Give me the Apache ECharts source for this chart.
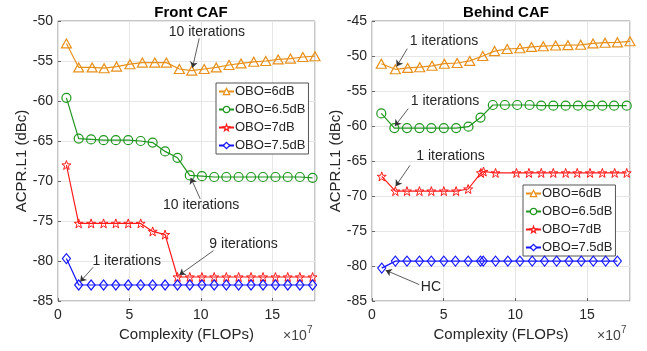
<!DOCTYPE html>
<html>
<head>
<meta charset="utf-8">
<script src="https://cdn.jsdelivr.net/npm/echarts@6/dist/echarts.min.js"></script>
<style>
html, body { margin: 0; padding: 0; background: #fff; }
#chart { width: 647px; height: 351px; }
</style>
</head>
<body>
<div id="chart"></div>
<script>
// series names, shared by both panels
var seriesNames = ['OBO=6dB', 'OBO=6.5dB', 'OBO=7dB', 'OBO=7.5dB'];

// Front CAF (left panel), complexity in units of 1e7 FLOPs
var frontX6 = [0.59, 1.45, 2.39, 3.23, 4.1, 5.04, 5.91, 6.78, 7.59, 8.5, 9.37, 10.24, 11.08, 11.98, 12.82, 13.71, 14.55, 15.42, 16.28, 17.15, 18.0];
var frontX = [0.59, 1.45, 2.32, 3.19, 4.05, 4.92, 5.79, 6.63, 7.5, 8.37, 9.23, 10.08, 10.94, 11.79, 12.65, 13.52, 14.36, 15.23, 16.09, 16.94, 17.83];
var front6 = [-52.8, -55.8, -55.8, -55.9, -55.7, -55.4, -55.2, -55.2, -55.2, -56.0, -56.2, -56.0, -55.8, -55.5, -55.3, -55.1, -55.0, -54.8, -54.7, -54.5, -54.4];
var front65 = [-59.6, -64.7, -64.8, -64.9, -64.9, -64.9, -65.0, -65.2, -66.3, -67.1, -69.3, -69.4, -69.5, -69.5, -69.5, -69.5, -69.5, -69.5, -69.5, -69.5, -69.6];
var front7 = [-68.0, -75.3, -75.3, -75.3, -75.3, -75.3, -75.3, -76.3, -76.7, -82.0, -82.0, -82.0, -82.0, -82.0, -82.0, -82.0, -82.0, -82.0, -82.0, -82.0, -82.0];
var front75 = [-79.7, -83.0, -83.0, -83.0, -83.0, -83.0, -83.0, -83.0, -83.0, -83.0, -83.0, -83.0, -83.0, -83.0, -83.0, -83.0, -83.0, -83.0, -83.0, -83.0, -83.0];

// Behind CAF (right panel)
var behindX6 = [0.65, 1.63, 2.49, 3.33, 4.19, 5.05, 5.94, 6.82, 7.73, 8.55, 9.43, 10.32, 11.13, 11.95, 12.81, 13.67, 14.56, 15.42, 16.26, 17.12, 18.0];
var behindX65 = [0.65, 1.56, 2.44, 3.31, 4.14, 5.01, 5.87, 6.73, 7.57, 8.43, 9.27, 10.13, 10.99, 11.81, 12.65, 13.51, 14.37, 15.21, 16.07, 16.89, 17.77];
var behindX7 = [0.68, 1.63, 2.44, 3.31, 4.14, 5.01, 5.87, 6.71, 7.6, 7.78, 8.62, 10.08, 10.95, 11.81, 12.65, 13.51, 14.32, 15.21, 16.07, 16.93, 17.77];
var behindX75 = [0.68, 1.63, 2.44, 3.31, 4.14, 5.01, 5.82, 6.71, 7.57, 7.76, 8.62, 9.48, 10.32, 11.18, 12.04, 12.88, 13.74, 14.6, 15.44, 16.3, 17.12];
var behind6 = [-51.1, -51.9, -51.7, -51.6, -51.4, -51.1, -51.0, -50.7, -50.0, -49.3, -49.0, -48.9, -48.7, -48.6, -48.5, -48.45, -48.4, -48.2, -48.1, -48.05, -47.9];
var behind65 = [-58.2, -60.3, -60.3, -60.3, -60.3, -60.3, -60.3, -60.1, -58.8, -57.0, -57.0, -57.0, -57.0, -57.1, -57.1, -57.1, -57.1, -57.1, -57.1, -57.1, -57.1];
var behind7 = [-67.2, -69.3, -69.3, -69.3, -69.3, -69.3, -69.3, -69.0, -66.7, -66.5, -66.7, -66.7, -66.7, -66.7, -66.7, -66.7, -66.7, -66.7, -66.7, -66.7, -66.7];
var behind75 = [-80.3, -79.3, -79.3, -79.3, -79.3, -79.3, -79.3, -79.3, -79.3, -79.3, -79.3, -79.3, -79.3, -79.3, -79.3, -79.3, -79.3, -79.3, -79.3, -79.3, -79.3];

// tick labels
var xTicks = [0, 5, 10, 15];
var frontYTicks = [-85, -80, -75, -70, -65, -60, -55, -50];
var behindYTicks = [-85, -80, -75, -70, -65, -60, -55, -50, -45];

// annotations: [text x, text y, arrow start x, y, arrow tip x, y, label]
var frontNotes = [
    [10.43, -51.45, 9.89, -52.17, 9.42, -55.85, '10 iterations'],
    [10.03, -73.07, 9.96, -72.23, 9.3, -69.6, '10 iterations'],
    [13.0, -77.86, 10.89, -78.7, 8.5, -81.75, '9 iterations'],
    [4.81, -80.04, 2.46, -80.79, 1.55, -82.6, '1 iterations']
];
var behindNotes = [
    [5.02, -47.86, 2.46, -48.95, 1.72, -51.5, '1 iterations'],
    [5.09, -56.48, 2.53, -57.52, 1.6, -60.0, '1 iterations'],
    [5.48, -64.33, 2.65, -65.62, 1.65, -68.6, '1 iterations'],
    [4.11, -83.09, 3.3, -82.66, 0.95, -80.6, 'HC']
];

var colors = ['#e8901a', '#1f961f', '#ff1a1a', '#1414ff'];
var starPath = 'path://M0,-10L2.35,-3.24L9.51,-3.09L3.8,1.24L5.88,8.09L0,4L-5.88,8.09L-3.8,1.24L-9.51,-3.09L-2.35,-3.24Z';
var symbols = ['triangle', 'circle', starPath, 'diamond'];
var symSizes = [[10, 9], 9, 9, [8, 10]];
var borderWidths = [1.2, 1.2, 1, 1.2];
var font = 'Liberation Sans, Arial, Helvetica, sans-serif';
var ink = '#262626';

function pairs(xs, ys) {
    return xs.map(function (x, i) { return [x, ys[i]]; });
}

function makeSeries(k, xs, ys, gi) {
    return {
        name: seriesNames[k],
        type: 'line',
        xAxisIndex: gi,
        yAxisIndex: gi,
        data: pairs(xs, ys),
        symbol: symbols[k],
        symbolSize: symSizes[k],
        lineStyle: { color: colors[k], width: 1.2 },
        itemStyle: { color: 'rgba(255,255,255,0)', borderColor: colors[k], borderWidth: borderWidths[k] },
        z: 3 + k
    };
}

function addNotes(s, notes) {
    s.markLine = {
        silent: true,
        symbol: ['none', 'arrow'],
        symbolSize: 6,
        lineStyle: { color: '#333', width: 0.8, type: 'solid' },
        label: { show: false },
        data: notes.map(function (n) {
            return [{ coord: [n[2], n[3]] }, { coord: [n[4], n[5]] }];
        })
    };
    s.markPoint = {
        silent: true,
        symbol: 'rect',
        symbolSize: 1,
        itemStyle: { color: 'rgba(0,0,0,0)' },
        label: { show: true, position: 'inside', formatter: '{b}', color: ink, fontSize: 14, fontFamily: font },
        data: notes.map(function (n) { return { coord: [n[0], n[1]], name: n[6] }; })
    };
}

function xAxisCfg(gi) {
    return {
        type: 'value', gridIndex: gi, min: 0, max: 18, interval: 5,
        name: 'Complexity (FLOPs)', nameLocation: 'middle', nameGap: 24,
        nameTextStyle: { color: ink, fontSize: 15, fontFamily: font },
        axisLine: { show: false },
        axisTick: { show: true, inside: true, length: 3, lineStyle: { color: '#666' } },
        axisLabel: { color: ink, fontSize: 14, fontFamily: font, margin: 7, showMaxLabel: false,
            formatter: function (v) { return xTicks.indexOf(v) >= 0 ? String(v) : ''; } },
        splitLine: { show: true, lineStyle: { color: '#e6e6e6' } }
    };
}

function yAxisCfg(gi, lo, hi, ticks) {
    return {
        type: 'value', gridIndex: gi, min: lo, max: hi, interval: 5,
        name: 'ACPR.L1 (dBc)', nameLocation: 'middle', nameGap: 27, nameRotate: 90,
        nameTextStyle: { color: ink, fontSize: 15, fontFamily: font },
        axisLine: { show: false },
        axisTick: { show: true, inside: true, length: 3, lineStyle: { color: '#666' } },
        axisLabel: { color: ink, fontSize: 14, fontFamily: font, margin: 5,
            formatter: function (v) { return ticks.indexOf(v) >= 0 ? String(v) : ''; } },
        splitLine: { show: true, lineStyle: { color: '#e6e6e6' } }
    };
}

var series = [
    makeSeries(0, frontX6, front6, 0),
    makeSeries(1, frontX, front65, 0),
    makeSeries(2, frontX, front7, 0),
    makeSeries(3, frontX, front75, 0),
    makeSeries(0, behindX6, behind6, 1),
    makeSeries(1, behindX65, behind65, 1),
    makeSeries(2, behindX7, behind7, 1),
    makeSeries(3, behindX75, behind75, 1)
];
addNotes(series[0], frontNotes);
addNotes(series[4], behindNotes);

function legendCfg(left, top) {
    return {
        orient: 'vertical', left: left, top: top,
        data: seriesNames,
        itemWidth: 15, itemHeight: 8, itemGap: 5,
        padding: [2, 3, 2, 2],
        backgroundColor: '#fff',
        borderColor: '#555', borderWidth: 1, borderRadius: 0,
        itemStyle: { color: '#fff', borderWidth: 1.2 },
        textStyle: { color: ink, fontSize: 13, fontFamily: font, padding: [0, 0, 0, -4] },
        selectedMode: false
    };
}

var myChart = echarts.init(document.getElementById('chart'));
var option = {
    animation: false,
    backgroundColor: '#fff',
    textStyle: { fontFamily: font },
    title: [
        { text: 'Front CAF', left: 186, top: 0, textAlign: 'center',
          textStyle: { fontSize: 15, fontWeight: 'bold', color: '#000', fontFamily: font } },
        { text: 'Behind CAF', left: 501, top: 0, textAlign: 'center',
          textStyle: { fontSize: 15, fontWeight: 'bold', color: '#000', fontFamily: font } }
    ],
    grid: [
        { left: 58, top: 21, width: 257, height: 280, show: true, borderColor: '#8c8c8c', borderWidth: 1, backgroundColor: 'transparent' },
        { left: 372, top: 21, width: 258, height: 280, show: true, borderColor: '#8c8c8c', borderWidth: 1, backgroundColor: 'transparent' }
    ],
    xAxis: [xAxisCfg(0), xAxisCfg(1)],
    yAxis: [yAxisCfg(0, -85, -50, frontYTicks), yAxisCfg(1, -85, -45, behindYTicks)],
    legend: [legendCfg(216, 83), legendCfg(523, 185)],
    graphic: [
        { type: 'text', left: 283, top: 329, style: { text: '×10', fontSize: 14, fill: '#444', fontFamily: font } },
        { type: 'text', left: 307, top: 325, style: { text: '7', fontSize: 10, fill: '#444', fontFamily: font } },
        { type: 'text', left: 597, top: 329, style: { text: '×10', fontSize: 14, fill: '#444', fontFamily: font } },
        { type: 'text', left: 621, top: 325, style: { text: '7', fontSize: 10, fill: '#444', fontFamily: font } }
    ],
    series: series
};
myChart.setOption(option);
</script>
</body>
</html>
